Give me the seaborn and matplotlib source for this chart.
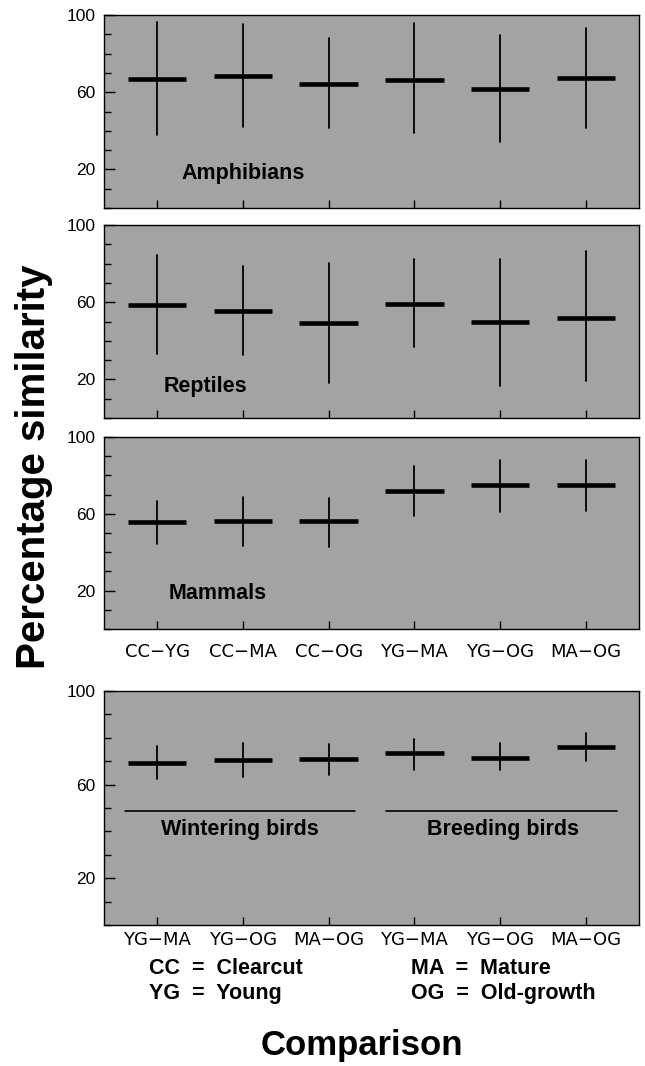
import numpy as np
import pandas as pd
import matplotlib
matplotlib.use("Agg")
import matplotlib.pyplot as plt
import seaborn as sns
from matplotlib.ticker import MultipleLocator, FixedLocator

# ---------------- data ----------------
comparisons_top = ["CC−YG", "CC−MA", "CC−OG", "YG−MA", "YG−OG", "MA−OG"]
comparisons_birds = ["YG−MA", "YG−OG", "MA−OG", "YG−MA", "YG−OG", "MA−OG"]

amph_mean = [66.9, 68.6, 64.3, 66.2, 61.9, 67.6]
amph_low = [37.9, 42.2, 41.7, 39.1, 34.0, 41.7]
amph_high = [96.2, 95.2, 87.9, 95.7, 89.5, 93.1]

rept_mean = [58.5, 55.5, 49.1, 59.2, 49.8, 51.7]
rept_low = [33.2, 32.9, 18.2, 37.0, 16.6, 19.0]
rept_high = [84.3, 78.7, 80.4, 82.5, 82.2, 86.3]

mamm_mean = [55.5, 56.3, 56.0, 72.0, 75.0, 75.0]
mamm_low = [44.2, 43.0, 42.6, 58.6, 60.7, 61.7]
mamm_high = [66.8, 69.0, 68.2, 85.0, 88.0, 88.0]

bird_mean = [69.4, 70.4, 71.1, 73.4, 71.3, 76.1]
bird_low = [62.4, 63.1, 64.0, 66.4, 66.1, 70.0]
bird_high = [76.7, 77.6, 77.4, 79.3, 77.6, 82.1]

taxa = ["Amphibians", "Reptiles", "Mammals"]
bird_groups = ["Wintering birds", "Breeding birds"]
legend_left = ["CC  =  Clearcut", "YG  =  Young"]
legend_right = ["MA  =  Mature", "OG  =  Old-growth"]

# ---------------- style ----------------
sns.set_style("ticks")
plt.rcParams["font.family"] = ["Liberation Sans", "DejaVu Sans"]
for k in ["text.color", "axes.labelcolor", "xtick.color", "ytick.color", "axes.edgecolor"]:
    plt.rcParams[k] = "black"
BG = "#a3a3a3"
HALF = 0.34

W, H = 645, 1066
fig = plt.figure(figsize=(W / 100, H / 100), dpi=100)


def make_ax(top, bottom, left=104, right=639):
    return fig.add_axes([left / W, 1 - bottom / H, (right - left) / W, (bottom - top) / H])


def draw_panel(ax, means, lows, highs):
    x = np.arange(len(means))
    df_v = pd.DataFrame({
        "x": np.repeat(x, 2).astype(float),
        "y": np.ravel(np.column_stack([lows, highs])),
        "id": np.repeat(x, 2),
    })
    sns.lineplot(data=df_v, x="x", y="y", units="id", estimator=None, sort=False,
                 color="black", lw=1.3, ax=ax, legend=False)
    df_h = pd.DataFrame({
        "x": np.ravel(np.column_stack([x - HALF, x + HALF])),
        "y": np.repeat(means, 2),
        "id": np.repeat(x, 2),
    })
    sns.lineplot(data=df_h, x="x", y="y", units="id", estimator=None, sort=False,
                 color="black", lw=3.3, ax=ax, legend=False, solid_capstyle="butt")
    ax.set_facecolor(BG)
    ax.set_xlim(-0.62, len(means) - 1 + 0.62)
    ax.set_ylim(0, 100)
    ax.set_xticks(x)
    ax.yaxis.set_major_locator(FixedLocator([20, 60, 100]))
    ax.yaxis.set_minor_locator(MultipleLocator(10))
    ax.tick_params(axis="y", which="major", direction="in", length=8, width=1,
                   labelsize=12.5, pad=6, colors="black")
    ax.tick_params(axis="y", which="minor", direction="in", length=5, width=1, colors="black")
    ax.tick_params(axis="x", which="major", direction="in", length=6, width=1, colors="black")
    ax.set_xlabel("")
    ax.set_ylabel("")
    for s in ax.spines.values():
        s.set_color("black")
        s.set_linewidth(1.0)


panel_specs = [
    (15, 208, amph_mean, amph_low, amph_high, taxa[0], (1.0, 18.0)),
    (225, 418, rept_mean, rept_low, rept_high, taxa[1], (0.56, 16.4)),
    (437, 629, mamm_mean, mamm_low, mamm_high, taxa[2], (0.71, 18.6)),
]
for i, (top, bottom, m, lo, hi, name, pos) in enumerate(panel_specs):
    ax = make_ax(top, bottom)
    draw_panel(ax, m, lo, hi)
    ax.text(pos[0], pos[1], name, ha="center", va="center", fontsize=15.5,
            fontweight="bold", color="black")
    if i == 2:
        ax.set_xticklabels(comparisons_top, fontsize=13, family="DejaVu Sans")
        ax.tick_params(axis="x", pad=10)
    else:
        ax.set_xticklabels([])

# birds panel
axb = make_ax(691, 925)
draw_panel(axb, bird_mean, bird_low, bird_high)
axb.set_xticklabels(comparisons_birds, fontsize=13, family="DejaVu Sans")
axb.tick_params(axis="x", pad=4)
sep_spans = [(-0.37, 2.31), (2.67, 5.36)]
label_x = [0.97, 4.03]
for (x0, x1), name, lx in zip(sep_spans, bird_groups, label_x):
    axb.plot([x0, x1], [48.6, 48.6], color="black", lw=1.2)
    axb.text(lx, 40.7, name, ha="center", va="center", fontsize=15.5,
             fontweight="bold", color="black")

# axis titles
fig.text(34 / W, 1 - 467 / H, "Percentage similarity", rotation=90, ha="center",
         va="center", fontsize=29, fontweight="bold", color="black")
fig.text(362 / W, 1 - 1045 / H, "Comparison", ha="center", va="center",
         fontsize=25, fontweight="bold", color="black")

# abbreviations legend
for j, t in enumerate(legend_left):
    fig.text(149 / W, 1 - (969 + 24 * j) / H, t, ha="left", va="center",
             fontsize=15.5, fontweight="bold", color="black")
for j, t in enumerate(legend_right):
    fig.text(411 / W, 1 - (969 + 24 * j) / H, t, ha="left", va="center",
             fontsize=15.5, fontweight="bold", color="black")

fig.savefig("out.png", dpi=100, facecolor="white")
